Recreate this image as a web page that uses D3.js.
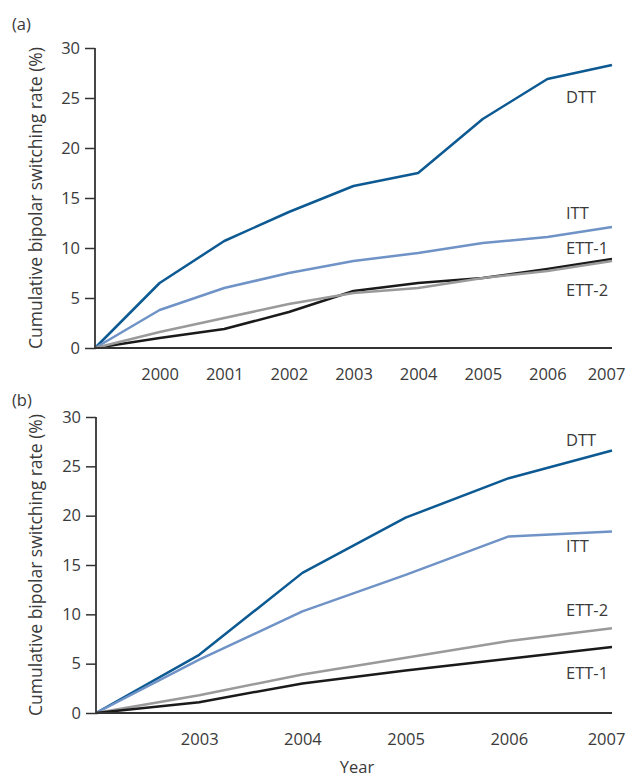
<!DOCTYPE html>
<html>
<head>
<meta charset="utf-8">
<script src="https://cdn.jsdelivr.net/npm/d3@7"></script>
<style>
  body { margin: 0; background: #fff; }
  svg text { font-family: "Open Sans", "Lato", sans-serif; fill: #3a3a3a; }
</style>
</head>
<body>
<div id="chart"></div>
<script>
// panel (a)
const yearsA = [1999, 2000, 2001, 2002, 2003, 2004, 2005, 2006, 2007];
const dttA  = [0, 6.5, 10.7, 13.6, 16.2, 17.5, 22.9, 26.9, 28.3];
const ittA  = [0, 3.8, 6.0, 7.5, 8.7, 9.5, 10.5, 11.1, 12.1];
const ett1A = [0, 1.0, 1.9, 3.6, 5.7, 6.5, 7.0, 7.9, 8.9];
const ett2A = [0, 1.6, 3.0, 4.4, 5.5, 6.0, 7.0, 7.7, 8.7];
const tickYearsA = [2000, 2001, 2002, 2003, 2004, 2005, 2006, 2007];

// panel (b)
const yearsB = [2002, 2003, 2004, 2005, 2006, 2007];
const dttB  = [0, 5.9, 14.2, 19.8, 23.8, 26.6];
const ittB  = [0, 5.4, 10.3, 14.0, 17.9, 18.4];
const ett1B = [0, 1.1, 3.0, 4.3, 5.5, 6.7];
const ett2B = [0, 1.8, 3.9, 5.6, 7.3, 8.6];
const tickYearsB = [2003, 2004, 2005, 2006, 2007];

const yTicks = [0, 5, 10, 15, 20, 25, 30];
const yLabel = "Cumulative bipolar switching rate (%)";

const colors = { DTT: "#0d5a93", ITT: "#6f93c6", "ETT-1": "#1a1a1a", "ETT-2": "#9a9a9a" };

const svg = d3.select("#chart").append("svg")
    .attr("width", 626)
    .attr("height", 778);

function drawPanel(cfg) {
    const g = svg.append("g");
    const x = d3.scaleLinear().domain(cfg.xDomain).range([cfg.left, cfg.right]);
    const y = d3.scaleLinear().domain([0, 30]).range([cfg.bottom, cfg.top]);

    // y axis
    const yAxis = d3.axisLeft(y).tickValues(yTicks).tickSize(10).tickPadding(5);
    const ya = g.append("g")
        .attr("transform", `translate(${cfg.left},0)`)
        .call(yAxis);
    ya.select(".domain").remove();
    ya.selectAll(".tick line").attr("stroke", "#333").attr("stroke-width", 1.5);
    ya.selectAll(".tick text").style("font-size", "16.5px").attr("fill", "#3a3a3a");

    // x tick labels (no tick marks)
    const xAxis = d3.axisBottom(x).tickValues(cfg.ticks).tickFormat(d3.format("d")).tickSize(0).tickPadding(20);
    const xa = g.append("g")
        .attr("transform", `translate(0,${cfg.bottom})`)
        .call(xAxis);
    xa.select(".domain").remove();
    xa.selectAll(".tick text")
        .style("font-size", "16.5px")
        .attr("fill", "#3a3a3a")
        .attr("dx", d => d === 2007 ? -6 : 0);

    const line = d3.line()
        .x((d, i) => x(cfg.years[i]))
        .y(d => y(d));

    cfg.series.forEach(s => {
        g.append("path")
            .datum(s.values)
            .attr("fill", "none")
            .attr("stroke", colors[s.name])
            .attr("stroke-width", 2.5)
            .attr("stroke-linejoin", "round")
            .attr("d", line);
        g.append("text")
            .attr("x", 566)
            .attr("y", s.labelY)
            .attr("dy", "0.35em")
            .style("font-size", "16.5px")
            .text(s.name);
    });

    // axis lines
    g.append("line")
        .attr("x1", cfg.left).attr("x2", cfg.left)
        .attr("y1", cfg.top).attr("y2", cfg.bottom)
        .attr("stroke", "#333").attr("stroke-width", 1.8);
    g.append("line")
        .attr("x1", cfg.left).attr("x2", cfg.right)
        .attr("y1", cfg.bottom).attr("y2", cfg.bottom)
        .attr("stroke", "#333").attr("stroke-width", 1.8);

    // y label
    g.append("text")
        .attr("transform", `translate(36,${(cfg.top + cfg.bottom) / 2}) rotate(-90)`)
        .attr("text-anchor", "middle")
        .attr("dy", "0.35em")
        .style("font-size", "17.5px")
        .text(yLabel);

    g.append("text")
        .attr("x", 12)
        .attr("y", cfg.panelY)
        .attr("dy", "0.35em")
        .style("font-size", "16.5px")
        .text(cfg.tag);
}

drawPanel({
    tag: "(a)", panelY: 24,
    xDomain: [1999, 2007], left: 95, right: 612, top: 48, bottom: 348,
    years: yearsA, ticks: tickYearsA,
    series: [
        { name: "DTT", values: dttA, labelY: 97 },
        { name: "ITT", values: ittA, labelY: 213 },
        { name: "ETT-1", values: ett1A, labelY: 248 },
        { name: "ETT-2", values: ett2A, labelY: 290 }
    ]
});

drawPanel({
    tag: "(b)", panelY: 400,
    xDomain: [2002, 2007], left: 96, right: 612, top: 417, bottom: 713,
    years: yearsB, ticks: tickYearsB,
    series: [
        { name: "DTT", values: dttB, labelY: 440 },
        { name: "ITT", values: ittB, labelY: 546 },
        { name: "ETT-2", values: ett2B, labelY: 610 },
        { name: "ETT-1", values: ett1B, labelY: 673 }
    ]
});

svg.append("text")
    .attr("x", 357)
    .attr("y", 767)
    .attr("text-anchor", "middle")
    .attr("dy", "0.35em")
    .style("font-size", "16.5px")
    .text("Year");
</script>
</body>
</html>
